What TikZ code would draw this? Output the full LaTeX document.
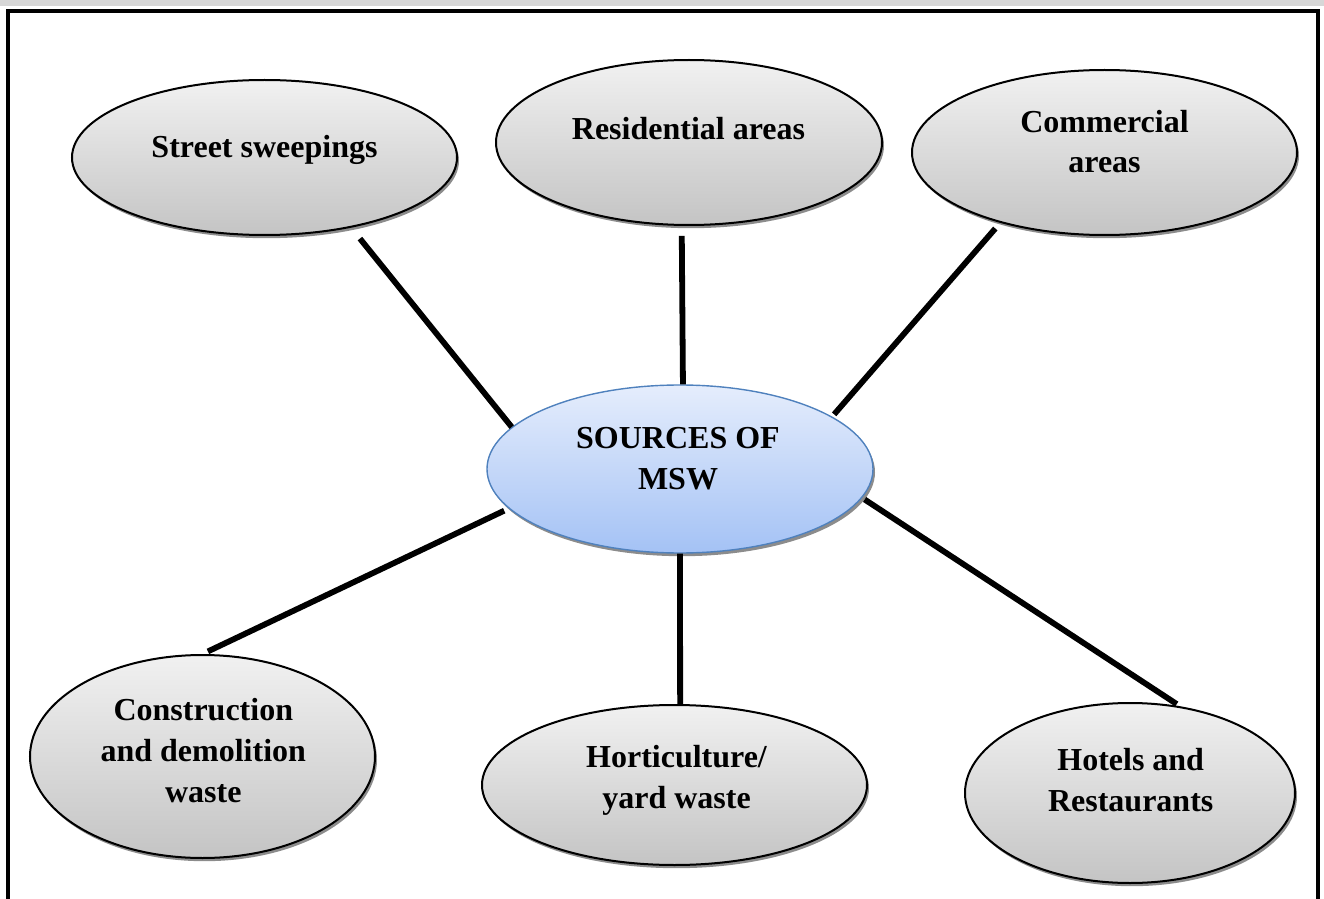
\documentclass[tikz,border=0pt]{standalone}
\usepackage{fontspec}
\setmainfont{Liberation Serif}
\usetikzlibrary{shapes.geometric,shadows}

\definecolor{bubbletop}{RGB}{241,241,241}
\definecolor{bubblebot}{RGB}{196,196,196}
\definecolor{hubtop}{RGB}{229,237,252}
\definecolor{hubbot}{RGB}{164,194,245}
\definecolor{hubline}{RGB}{79,129,189}
\definecolor{shadowgray}{RGB}{140,140,140}
\definecolor{edgegray}{RGB}{215,215,215}

\begin{document}
\begin{tikzpicture}[x=0.5pt,y=-0.5pt,
  bubble/.style={ellipse, draw=black, line width=1pt, inner sep=0pt,
    top color=bubbletop, bottom color=bubblebot,
    drop shadow={shadow xshift=1pt, shadow yshift=-1.6pt, fill=shadowgray, opacity=1}},
  hub/.style={ellipse, draw=hubline, line width=0.7pt, inner sep=0pt,
    top color=hubtop, bottom color=hubbot,
    drop shadow={shadow xshift=1pt, shadow yshift=-1.6pt, fill=shadowgray, opacity=1}},
  bubbletext/.style={font=\fontsize{16}{20.5}\selectfont\bfseries, align=center, inner sep=0pt},
  spoke/.style={line width=2.9pt, black},
  frameline/.style={line width=2.3pt, black, line join=miter}]

\useasboundingbox (0,0) rectangle (1324,899);
\fill[edgegray] (0,0) rectangle (1324,6);

% page frame (open at the bottom)
\draw[frameline] (8,899) -- (8,11) -- (1318,11) -- (1318,899);

% ellipses
\node[bubble, minimum width=192.5pt, minimum height=77.5pt] (street) at (264.5,157.5) {};
\node[bubble, minimum width=193pt, minimum height=82.5pt] (res) at (689,142.5) {};
\node[bubble, minimum width=192.5pt, minimum height=82.5pt] (comm) at (1104.5,152.5) {};
\node[hub, minimum width=193pt, minimum height=84pt] (msw) at (680,469) {};
\node[bubble, minimum width=172.5pt, minimum height=101.5pt] (constr) at (202.5,756.5) {};
\node[bubble, minimum width=192.5pt, minimum height=80pt] (hort) at (674.5,785) {};
\node[bubble, minimum width=165pt, minimum height=90pt] (hotel) at (1130,793) {};

% captions
\node[bubbletext] (street-t) at (264.5,149.8) {Street sweepings\strut};
\node[bubbletext] (res-t) at (688.5,131.8) {Residential areas\strut};
\node[bubbletext] (comm-t) at (1104.5,144.3) {Commercial\strut\\areas\strut};
\node[bubbletext] (msw-t) at (678,460.8) {SOURCES OF\strut\\MSW\strut};
\node[bubbletext] (constr-t) at (203.3,753.3) {Construction\strut\\and demolition\strut\\waste\strut};
\node[bubbletext] (hort-t) at (676.5,779.3) {Horticulture/\strut\\yard waste\strut};
\node[bubbletext] (hotel-t) at (1130.7,782.8) {Hotels and\strut\\Restaurants\strut};

% spokes
\draw[spoke, shorten <=7pt] (street.-39.4) -- (msw.166);
\draw[spoke, shorten <=5pt] (res.265.15) -- (msw.88.6);
\draw[spoke, shorten <=3.75pt, shorten >=1.5pt] (comm.214.3) -- (msw.19.4);
\draw[spoke, shorten <=2.5pt, shorten >=3pt] (msw.193.1) -- (constr.90.5);
\draw[spoke] (msw.270) -- (hort.86.1);
\draw[spoke, shorten <=1.5pt, shorten >=2pt] (msw.351.9) -- (hotel.60.4);
\end{tikzpicture}
\end{document}
